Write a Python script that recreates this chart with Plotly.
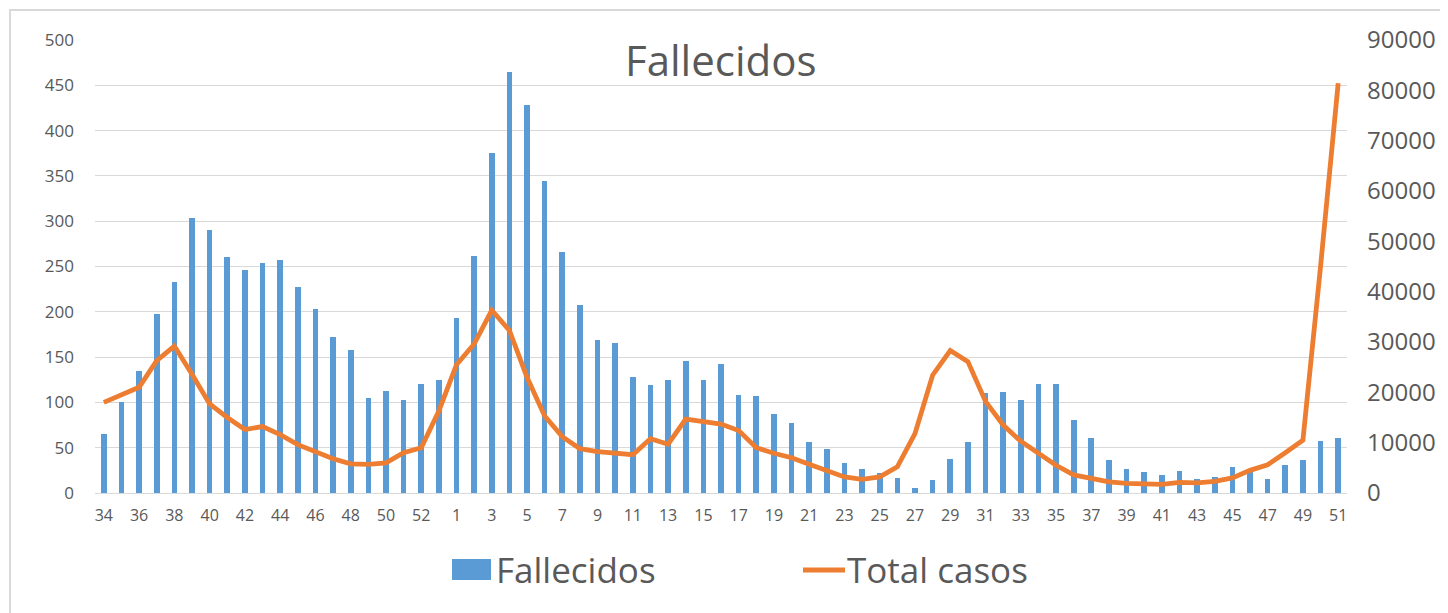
import plotly.graph_objects as go

# ---- data ----
weeks = [str(w) for w in range(34, 54)] + [str(w) for w in range(1, 52)]

fallecidos = [65, 100, 135, 198, 233, 304, 290, 260, 246, 254, 257, 227, 203, 172, 158, 105, 113, 103, 120, 125,
              193, 262, 375, 465, 428, 344, 266, 208, 169, 166, 128, 119, 125, 146, 125, 142, 108, 107, 87, 77,
              56, 49, 33, 27, 22, 17, 5, 14, 37, 56, 110, 112, 103, 120, 120, 81, 61, 36, 27, 23,
              20, 24, 16, 18, 29, 25, 16, 31, 36, 57, 61]

total_casos = [18000, 19500, 21000, 26300, 29200, 23600, 17700, 15000, 12600, 13200, 11600, 9600, 8200, 6800,
               5800, 5700, 6000, 8000, 9000, 16300,
               25500, 29600, 36300, 32300, 23000, 15300, 11200, 8800, 8200, 8000, 7600, 10800, 9700, 14700,
               14100, 13700, 12400, 9000, 7900, 7000, 5700, 4500, 3200, 2700, 3200, 5200, 11800, 23400, 28300,
               26100, 18200, 13500, 10300, 7900, 5500, 3600, 2800, 2200, 1900, 1700, 1700, 2100, 2000, 2300,
               3000, 4500, 5600, 8000, 10500, 45000, 81400]

x_pos = list(range(len(weeks)))
tick_vals = x_pos[::2]
tick_text = weeks[::2]

# ---- layout constants (page pixels; the page body has an 8px margin) ----
BODY = 8
PAGE_W, PAGE_H = 1448, 613
W, H = PAGE_W - BODY, PAGE_H - BODY
PL, PR, PT, PB = 95, 1347, 40, 493          # plot area in page pixels
L, R, T, B = PL - BODY, PAGE_W - PR, PT - BODY, PAGE_H - PB
PW, PH = PR - PL, PB - PT
TXT = "#595959"
GRID = "#d9d9d9"
FONT = "Open Sans"
BLUE = "#5B9BD5"
ORANGE = "#ED7D31"


def px(xp):
    return (xp - PL) / PW


def py(yp):
    return (PB - yp) / PH


fig = go.Figure()
fig.add_trace(go.Bar(x=x_pos, y=fallecidos, name="Fallecidos", marker_color=BLUE,
                     marker_line_width=0, width=0.32, yaxis="y"))
fig.add_trace(go.Scatter(x=x_pos, y=total_casos, name="Total casos", mode="lines",
                         line=dict(color=ORANGE, width=4.8), yaxis="y2"))

fig.update_layout(
    width=W, height=H, autosize=False,
    margin=dict(l=L, r=R, t=T, b=B, autoexpand=False),
    paper_bgcolor="white", plot_bgcolor="white",
    font=dict(family=FONT, color=TXT),
    showlegend=False,
    xaxis=dict(range=[-0.5, len(weeks) - 0.5], tickmode="array", tickvals=tick_vals, ticktext=tick_text,
               showgrid=False, zeroline=False, showline=True, linecolor=GRID, linewidth=1.3,
               ticks="", ticklabelstandoff=8, tickfont=dict(size=16, color=TXT), automargin=False),
    yaxis=dict(range=[0, 500], dtick=50, showgrid=True, gridcolor=GRID, gridwidth=1.3,
               zeroline=False, showline=False, ticks="", ticklabelstandoff=20,
               tickfont=dict(size=17, color=TXT), automargin=False),
    yaxis2=dict(range=[0, 90000], dtick=10000, tickformat="d", overlaying="y", side="right",
                showgrid=False, zeroline=False, showline=False, ticks="", ticklabelstandoff=19,
                tickfont=dict(size=24, color=TXT), automargin=False),
    bargap=0,
)

# title
fig.add_annotation(text="Fallecidos", xref="paper", yref="paper", x=0.5, y=py(59),
                   xanchor="center", yanchor="middle", showarrow=False,
                   font=dict(size=42, color=TXT, family=FONT))

# legend (drawn to match the reference's large keys)
fig.add_shape(type="rect", xref="paper", yref="paper", x0=px(452), x1=px(491), y0=py(580), y1=py(559),
              fillcolor=BLUE, line=dict(width=0))
fig.add_annotation(text="Fallecidos", xref="paper", yref="paper", x=px(494), y=py(569),
                   xanchor="left", yanchor="middle", showarrow=False,
                   font=dict(size=35, color=TXT, family=FONT))
fig.add_shape(type="line", xref="paper", yref="paper", x0=px(803), x1=px(845), y0=py(570), y1=py(570),
              line=dict(color=ORANGE, width=5))
fig.add_annotation(text="Total casos", xref="paper", yref="paper", x=px(845), y=py(569),
                   xanchor="left", yanchor="middle", showarrow=False,
                   font=dict(size=35, color=TXT, family=FONT))

# chart frame
fig.add_shape(type="rect", xref="paper", yref="paper", x0=px(10), x1=px(PAGE_W + 20),
              y0=py(PAGE_H + 20), y1=py(10), line=dict(color=GRID, width=2), layer="below")

fig.write_html("out.html")
